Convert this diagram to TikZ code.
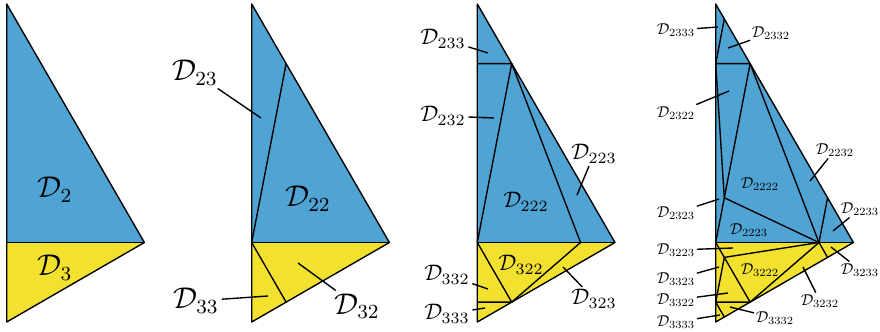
\documentclass[tikz,border=0pt]{standalone}
\usepackage{amsmath,amssymb}
\usepackage{xcolor}
\usetikzlibrary{calc}
\definecolor{regblue}{HTML}{4FA4D3}
\definecolor{regyellow}{HTML}{F2E12E}

\begin{document}
\begin{tikzpicture}[
    x=0.4pt, y=-0.4pt, % pixel grid, y pointing down
    edge/.style={draw, line width=0.55pt, line join=round},
    leader/.style={draw, line width=0.55pt},
    lblbig/.style={font=\large, inner sep=1pt},
    lblmid/.style={font=\normalsize, scale=0.9, inner sep=1pt},
    lblsmall/.style={font=\normalsize, scale=0.63, inner sep=1pt},
  ]
  \useasboundingbox (0,0) rectangle (880,332);

  % --- Panel 1: first split ---
  \coordinate (aT) at (6.7,4);
  \coordinate (aB) at (6.7,322);
  \coordinate (aR) at (144.4,242.5);
  \coordinate (aM) at ($(aT)!0.75!(aB)$);

  \fill[regblue] (aT) -- (aM) -- (aR) -- cycle;
  \fill[regyellow] (aM) -- (aR) -- (aB) -- cycle;
  \draw[edge] (aT) -- (aR) -- (aB) -- cycle;
  \draw[edge] (aM) -- (aR);

  \node[lblbig] (l2) at (55,190) {$\mathcal{D}_{2}$};
  \node[lblbig] (l3) at (55,268) {$\mathcal{D}_{3}$};

  % --- Panel 2: second split ---
  \coordinate (bT) at (251.7,4);
  \coordinate (bB) at (251.7,322);
  \coordinate (bR) at (389.4,242.5);
  \coordinate (bM) at ($(bT)!0.75!(bB)$);
  \coordinate (bF) at ($(bR)!0.75!(bT)$);
  \coordinate (bG) at ($(bR)!0.75!(bB)$);

  \fill[regblue] (bT) -- (bM) -- (bR) -- cycle;
  \fill[regyellow] (bM) -- (bR) -- (bB) -- cycle;
  \draw[edge] (bT) -- (bR) -- (bB) -- cycle;
  \draw[edge] (bM) -- (bR);
  \draw[edge] (bM) -- (bF);
  \draw[edge] (bM) -- (bG);

  \node[lblbig] (l23) at (195,73) {$\mathcal{D}_{23}$};
  \node[lblbig] (l22) at (308,199) {$\mathcal{D}_{22}$};
  \node[lblbig] (l33) at (196,301) {$\mathcal{D}_{33}$};
  \node[lblbig] (l32) at (357,306) {$\mathcal{D}_{32}$};
  \coordinate (t23) at (261,118);
  \coordinate (t33) at (268,296);
  \coordinate (t32) at (298,263);
  \draw[leader] (l23) -- (t23);
  \draw[leader] (l33) -- (t33);
  \draw[leader] (l32) -- (t32);

  % --- Panel 3: third split ---
  \coordinate (cT) at (477.3,4);
  \coordinate (cB) at (477.3,322);
  \coordinate (cR) at (615,242.5);
  \coordinate (cM) at ($(cT)!0.75!(cB)$);
  \coordinate (cF) at ($(cR)!0.75!(cT)$);
  \coordinate (cG) at ($(cR)!0.75!(cB)$);
  \coordinate (cP) at ($(cM)!0.75!(cR)$);
  \coordinate (cK) at ($(cM)!0.75!(cT)$);
  \coordinate (cL) at ($(cM)!0.75!(cB)$);

  \fill[regblue] (cT) -- (cM) -- (cR) -- cycle;
  \fill[regyellow] (cM) -- (cR) -- (cB) -- cycle;
  \draw[edge] (cT) -- (cR) -- (cB) -- cycle;
  \draw[edge] (cM) -- (cR);
  \draw[edge] (cM) -- (cF);
  \draw[edge] (cM) -- (cG);
  \draw[edge] (cK) -- (cF) -- (cP) -- (cG) -- (cL);

  \node[lblmid] (l233) at (443,39) {$\mathcal{D}_{233}$};
  \node[lblmid] (l232) at (443,116) {$\mathcal{D}_{232}$};
  \node[lblmid] (l223) at (594,154) {$\mathcal{D}_{223}$};
  \node[lblmid] (l222) at (526,202) {$\mathcal{D}_{222}$};
  \node[lblmid] (l322) at (521,265) {$\mathcal{D}_{322}$};
  \node[lblmid] (l332) at (447,275) {$\mathcal{D}_{332}$};
  \node[lblmid] (l333) at (447,314) {$\mathcal{D}_{333}$};
  \node[lblmid] (l323) at (594,299) {$\mathcal{D}_{323}$};
  \coordinate (t233) at (488,53);
  \coordinate (t232) at (494,118);
  \coordinate (t223) at (577,195);
  \coordinate (t332) at (488,289);
  \coordinate (t333) at (485,308);
  \coordinate (t323) at (563,267);
  \draw[leader] (l233) -- (t233);
  \draw[leader] (l232) -- (t232);
  \draw[leader] (l223) -- (t223);
  \draw[leader] (l332) -- (t332);
  \draw[leader] (l333) -- (t333);
  \draw[leader] (l323) -- (t323);

  % --- Panel 4: fourth split ---
  \coordinate (dT) at (715.7,4);
  \coordinate (dB) at (715.7,322);
  \coordinate (dR) at (853.4,242.5);
  \coordinate (dM) at ($(dT)!0.75!(dB)$);
  \coordinate (dF) at ($(dR)!0.75!(dT)$);
  \coordinate (dG) at ($(dR)!0.75!(dB)$);
  \coordinate (dP) at ($(dM)!0.75!(dR)$);
  \coordinate (dK) at ($(dM)!0.75!(dT)$);
  \coordinate (dL) at ($(dM)!0.75!(dB)$);
  \coordinate (dQa) at ($(dF)!0.75!(dM)$);
  \coordinate (dQb) at ($(dF)!0.75!(dR)$);
  \coordinate (dQc) at ($(dF)!0.75!(dT)$);
  \coordinate (dQd) at ($(dG)!0.75!(dM)$);
  \coordinate (dQe) at ($(dG)!0.75!(dR)$);
  \coordinate (dQf) at ($(dG)!0.75!(dB)$);

  \fill[regblue] (dT) -- (dM) -- (dR) -- cycle;
  \fill[regyellow] (dM) -- (dR) -- (dB) -- cycle;
  \draw[edge] (dT) -- (dR) -- (dB) -- cycle;
  \draw[edge] (dM) -- (dR);
  \draw[edge] (dM) -- (dF);
  \draw[edge] (dM) -- (dG);
  \draw[edge] (dK) -- (dF) -- (dP) -- (dG) -- (dL);
  \draw[edge] (dK) -- (dQa) -- (dP);
  \draw[edge] (dP) -- (dQb);
  \draw[edge] (dK) -- (dQc);
  \draw[edge] (dL) -- (dQd) -- (dP);
  \draw[edge] (dP) -- (dQe);
  \draw[edge] (dL) -- (dQf);

  \node[lblsmall] (l2333) at (676,30) {$\mathcal{D}_{2333}$};
  \node[lblsmall] (l2332) at (771,33) {$\mathcal{D}_{2332}$};
  \node[lblsmall] (l2322) at (676,113) {$\mathcal{D}_{2322}$};
  \node[lblsmall] (l2232) at (835,150) {$\mathcal{D}_{2232}$};
  \node[lblsmall] (l2222) at (760,184) {$\mathcal{D}_{2222}$};
  \node[lblsmall] (l2323) at (676,213) {$\mathcal{D}_{2323}$};
  \node[lblsmall] (l2223) at (749,230) {$\mathcal{D}_{2223}$};
  \node[lblsmall] (l2233) at (860,209) {$\mathcal{D}_{2233}$};
  \node[lblsmall] (l3223) at (676,250) {$\mathcal{D}_{3223}$};
  \node[lblsmall] (l3222) at (760,270) {$\mathcal{D}_{3222}$};
  \node[lblsmall] (l3323) at (676,279) {$\mathcal{D}_{3323}$};
  \node[lblsmall] (l3322) at (676,300) {$\mathcal{D}_{3322}$};
  \node[lblsmall] (l3333) at (676,322) {$\mathcal{D}_{3333}$};
  \node[lblsmall] (l3332) at (775,318) {$\mathcal{D}_{3332}$};
  \node[lblsmall] (l3232) at (820,301) {$\mathcal{D}_{3232}$};
  \node[lblsmall] (l3233) at (860,270) {$\mathcal{D}_{3233}$};
  \coordinate (t2333) at (718,27);
  \coordinate (t2332) at (728,48);
  \coordinate (t2322) at (729,91);
  \coordinate (t2232) at (810,181);
  \coordinate (t2323) at (719,199);
  \coordinate (t2233) at (833,231);
  \coordinate (t3223) at (733,248);
  \coordinate (t3323) at (719,267);
  \coordinate (t3322) at (728,293);
  \coordinate (t3333) at (720,315);
  \coordinate (t3332) at (730,307);
  \coordinate (t3232) at (803,267);
  \coordinate (t3233) at (831,247);
  \draw[leader] (l2333) -- (t2333);
  \draw[leader] (l2332) -- (t2332);
  \draw[leader] (l2322) -- (t2322);
  \draw[leader] (l2232) -- (t2232);
  \draw[leader] (l2323) -- (t2323);
  \draw[leader] (l2233) -- (t2233);
  \draw[leader] (l3223) -- (t3223);
  \draw[leader] (l3323) -- (t3323);
  \draw[leader] (l3322) -- (t3322);
  \draw[leader] (l3333) -- (t3333);
  \draw[leader] (l3332) -- (t3332);
  \draw[leader] (l3232) -- (t3232);
  \draw[leader] (l3233) -- (t3233);
\end{tikzpicture}
\end{document}
